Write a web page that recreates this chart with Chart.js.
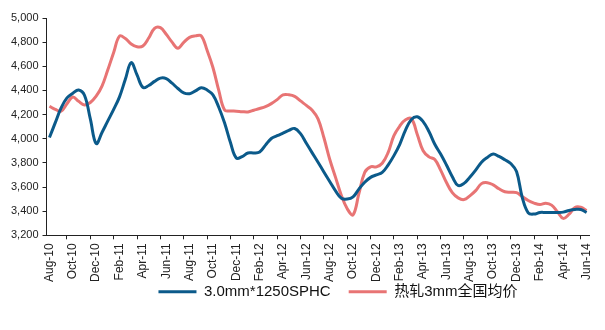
<!DOCTYPE html>
<html>
<head>
<meta charset="utf-8">
<script src="https://cdn.jsdelivr.net/npm/chart.js@4"></script>
<style>
html, body { margin: 0; padding: 0; background: #fff; }
#wrap { width: 605px; height: 330px; }
</style>
</head>
<body>
<div id="wrap"><canvas id="chart"></canvas></div>
<script>
const tickLabels = ["Aug-10","Oct-10","Dec-10","Feb-11","Apr-11","Jun-11","Aug-11","Oct-11","Dec-11","Feb-12","Apr-12","Jun-12",
    "Aug-12","Oct-12","Dec-12","Feb-13","Apr-13","Jun-13","Aug-13","Oct-13","Dec-13","Feb-14","Apr-14","Jun-14"]

// half-monthly readings, Aug-10 .. Jun-14
const sphc = [4010,4133,4256,4338,4377,4404,4360,4164,3960,4052,4148,4243,
    4347,4492,4630,4528,4425,4441,4475,4502,4498,4460,4416,4380,
    4373,4396,4422,4404,4363,4261,4130,3968,3840,3852,3882,3882,
    3890,3947,4002,4025,4047,4069,4085,4042,3963,3883,3805,3725,
    3646,3568,3507,3500,3518,3583,3640,3680,3700,3721,3782,3860,
    3954,4073,4160,4182,4142,4060,3954,3873,3782,3685,3612,3630,
    3681,3740,3806,3845,3873,3853,3826,3795,3728,3510,3386,3376,
    3389,3389,3389,3389,3392,3406,3414,3414,3389]

const avg3mm = [4269,4243,4229,4290,4345,4310,4280,4300,4352,4436,4571,4715,
    4850,4830,4785,4762,4768,4834,4915,4920,4865,4800,4750,4798,
    4840,4852,4852,4732,4590,4400,4237,4230,4228,4224,4222,4236,
    4250,4266,4291,4324,4363,4364,4351,4313,4276,4236,4165,4010,
    3830,3680,3530,3420,3370,3545,3722,3767,3767,3797,3885,4025,
    4105,4157,4165,4035,3900,3850,3828,3740,3637,3553,3510,3496,
    3527,3570,3628,3636,3618,3585,3561,3557,3553,3520,3488,3467,
    3455,3465,3450,3395,3340,3375,3430,3432,3405]

const seriesNames = ["3.0mm*1250SPHC", "热轧3mm全国均价"]

// one category per half month, label every 4th
const labels = []
for (let i = 0; i < sphc.length; i++) {
    labels.push(i % 4 === 0 ? tickLabels[i / 4] : "")
}

Chart.defaults.font.family = "'Liberation Sans', Arial, sans-serif"
Chart.defaults.color = "#222"

// legend sits tight under the date labels and a bit right of centre
const placeLegend = {
    id: 'placeLegend',
    afterLayout(chart) {
        const lg = chart.legend
        const h = lg.bottom - lg.top
        lg.top = chart.chartArea.bottom + 31
        lg.bottom = lg.top + h
        lg.left += 29
        lg.right += 29
    }
}

new Chart(document.getElementById("chart"), {
    type: 'line',
    data: {
        labels: labels,
        datasets: [{
            label: seriesNames[0],
            data: sphc,
            borderColor: "#0b5a8a",
            backgroundColor: "#0b5a8a",
            borderWidth: 3,
            pointRadius: 0,
            tension: 0.4
        }, {
            label: seriesNames[1],
            data: avg3mm,
            borderColor: "#e87474",
            backgroundColor: "#e87474",
            borderWidth: 3,
            pointRadius: 0,
            tension: 0.4
        }]
    },
    plugins: [placeLegend],
    options: {
        responsive: true,
        maintainAspectRatio: false,
        animation: false,
        layout: { padding: { left: 7, right: -6, top: 18, bottom: 1 } },
        plugins: {
            tooltip: { enabled: false },
            legend: {
                position: 'bottom',
                labels: {
                    usePointStyle: true,
                    pointStyle: 'line',
                    pointStyleWidth: 38,
                    padding: 18,
                    color: "#111",
                    font: { size: 15, family: "'Liberation Sans', 'Noto Sans CJK SC', sans-serif" }
                }
            }
        },
        scales: {
            x: {
                offset: true,
                border: { color: "#222", width: 1 },
                grid: {
                    drawOnChartArea: false,
                    tickLength: 4,
                    color: (ctx) => ctx.index % 4 === 3 ? "#222" : "rgba(0,0,0,0)"
                },
                ticks: {
                    autoSkip: false,
                    maxRotation: 90,
                    minRotation: 90,
                    padding: 4,
                    font: { size: 12 }
                }
            },
            y: {
                min: 3200,
                max: 5000,
                border: { color: "#222", width: 1 },
                grid: { drawOnChartArea: false, tickLength: 4, color: "#222" },
                ticks: {
                    stepSize: 200,
                    padding: 4,
                    font: { size: 11 },
                    callback: (v) => v.toLocaleString('en-US')
                }
            }
        }
    }
});
</script>
</body>
</html>
